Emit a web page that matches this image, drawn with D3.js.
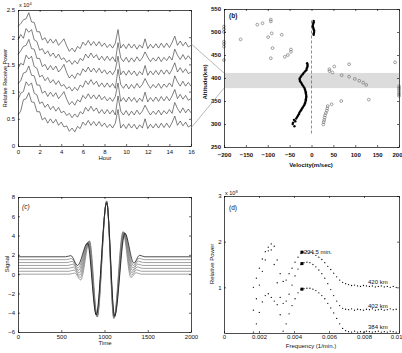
<!DOCTYPE html>
<html><head><meta charset="utf-8">
<script src="https://cdn.jsdelivr.net/npm/d3@7/dist/d3.min.js"></script>
<style>
body{margin:0;background:#fff}
text{font-family:"Liberation Sans",Arial,sans-serif;fill:#111}
</style></head><body>
<script>
var W = 402, H = 353;

// (a) relative receive power, 7 altitudes, sampled every 0.25 h
var powerCurves = [
 [0.57,0.64,0.85,0.87,0.98,0.81,0.80,0.63,0.63,0.48,0.52,0.42,0.50,0.42,0.49,0.38,0.44,0.35,0.37,0.27,0.33,0.26,0.36,0.32,0.44,0.38,0.47,0.38,0.45,0.37,0.45,0.36,0.42,0.34,0.40,0.33,0.42,0.67,0.33,0.40,0.32,0.41,0.33,0.40,0.31,0.39,0.33,0.50,0.32,0.40,0.33,0.41,0.33,0.42,0.34,0.42,0.34,0.43,0.55,0.38,0.46,0.37,0.44,0.35,0.38],
 [0.85,0.97,1.00,1.18,1.11,1.16,0.97,0.94,0.78,0.81,0.71,0.77,0.67,0.73,0.64,0.71,0.61,0.64,0.56,0.60,0.52,0.59,0.53,0.63,0.59,0.71,0.64,0.73,0.64,0.70,0.60,0.67,0.59,0.67,0.59,0.66,0.57,0.92,0.64,0.57,0.65,0.56,0.64,0.57,0.66,0.58,0.64,0.75,0.65,0.57,0.64,0.58,0.66,0.57,0.65,0.59,0.67,0.60,0.80,0.69,0.61,0.70,0.61,0.68,0.61],
 [1.14,1.20,1.34,1.36,1.47,1.30,1.29,1.12,1.12,0.97,1.01,0.91,0.99,0.91,0.98,0.87,0.93,1.00,0.86,0.76,0.82,0.75,0.85,0.81,0.93,0.87,0.96,0.87,0.94,0.86,0.94,0.85,0.91,0.83,0.89,0.82,0.91,1.16,0.82,0.89,0.81,0.90,0.82,0.89,0.80,0.88,0.82,0.99,0.81,0.89,0.82,0.90,0.82,0.91,0.83,0.91,0.83,0.92,1.04,0.87,0.95,0.86,0.93,0.84,0.87],
 [1.42,1.52,1.49,1.67,1.60,1.65,1.46,1.43,1.27,1.30,1.20,1.26,1.16,1.22,1.13,1.20,1.10,1.13,1.05,1.09,1.01,1.08,1.02,1.12,1.08,1.20,1.13,1.22,1.13,1.19,1.09,1.16,1.08,1.16,1.08,1.15,1.06,1.41,1.13,1.06,1.14,1.05,1.13,1.06,1.15,1.07,1.13,1.24,1.14,1.06,1.13,1.07,1.15,1.06,1.14,1.08,1.16,1.09,1.29,1.18,1.10,1.19,1.10,1.17,1.10],
 [1.68,1.75,1.83,1.85,1.96,1.79,1.78,1.61,1.61,1.46,1.50,1.40,1.48,1.40,1.47,1.36,1.42,1.50,1.35,1.25,1.31,1.24,1.34,1.30,1.42,1.36,1.45,1.36,1.43,1.35,1.43,1.34,1.40,1.32,1.38,1.31,1.40,1.65,1.31,1.38,1.30,1.39,1.31,1.38,1.29,1.37,1.31,1.48,1.30,1.38,1.31,1.39,1.31,1.40,1.32,1.40,1.32,1.41,1.53,1.36,1.44,1.35,1.42,1.33,1.36],
 [1.95,2.05,1.98,2.16,2.09,2.14,1.95,1.92,1.76,1.79,1.69,1.75,1.65,1.71,1.62,1.69,1.59,1.62,1.54,1.58,1.50,1.57,1.51,1.61,1.57,1.69,1.62,1.71,1.62,1.68,1.58,1.65,1.57,1.65,1.57,1.64,1.55,1.90,1.62,1.55,1.63,1.54,1.62,1.55,1.64,1.56,1.62,1.73,1.63,1.55,1.62,1.56,1.64,1.55,1.63,1.57,1.65,1.58,1.78,1.67,1.59,1.68,1.59,1.66,1.59],
 [2.20,2.25,2.32,2.34,2.45,2.28,2.27,2.10,2.10,1.95,1.99,1.89,1.97,1.89,1.96,1.85,1.91,1.97,1.84,1.74,1.80,1.73,1.83,1.79,1.91,1.85,1.94,1.85,1.92,1.84,1.92,1.83,1.89,1.81,1.87,1.80,1.89,2.14,1.80,1.87,1.79,1.88,1.80,1.87,1.78,1.86,1.80,1.97,1.79,1.87,1.80,1.88,1.80,1.89,1.81,1.89,1.81,1.90,2.02,1.85,1.93,1.84,1.91,1.82,1.85]
];
var hourTicks = [0,2,4,6,8,10,12,14,16];
var powerTicks = [0,0.5,1,1.5,2,2.5];
var powerTickLabels = ["0","0.5","1","1.5","2","2.5"];

// (b) velocity profile
var openVel = [-200,-200,-200,-200,-200,-200,-200,-162,-124,-112,-93,-93,-91,-99,-68,-89,-93,-61,-54,-47,-47,
  41,41,48,52,69,86,86,99,109,118,125,131,191,200,200,200,200,200,200,68,46,37,27,28,29,30,31,33,35,36];
var openAlt = [512,506,500,479,474,468,439,484,516,519,527,523,497,489,494,465,443,446,450,457,462,
  419,415,412,425,406,430,403,398,394,390,385,353,434,382,378,374,369,365,361,350,343,339,299,304,309,314,319,324,329,334];
var dotVel = [5,5,4,3,3,4,5,6,6,5,5,
  -10,-9,-9,-10,-11,-12,-15,-18,-20,-23,-25,-27,-27,-26,-24,-22,-20,-18,-16,-15,-14,-13,-13,-12,-12,-12,-13,-13,-14,-15,-16,-18,-20,-22,-24,-26,-28,-29,-31,-33,-35,-40,-37,-42,-43,-39];
var dotAlt = [524,521,518,515,512,509,506,503,500,497,494,
  432,429,426,423,420,417,414,411,408,405,402,399,396,393,390,387,384,381,378,375,372,369,366,363,360,357,354,351,348,345,342,339,336,333,330,327,324,321,318,315,312,309,306,303,300,295];
var bandAlt = [378,411];
var velTicks = [-200,-150,-100,-50,0,50,100,150,200];
var altTicks = [250,300,350,400,450,500,550];

// (c) wave packets
var sigTime = [
 [0,600,655,725,828,917,1025,1107,1213,1305,1365,1420,2000],
 [0,592,648,719,824,915,1025,1109,1217,1311,1372,1428,2000],
 [0,583,640,713,820,913,1025,1110,1221,1316,1379,1436,2000],
 [0,575,633,707,816,911,1025,1112,1224,1322,1385,1444,2000],
 [0,566,625,701,812,908,1025,1114,1228,1327,1392,1452,2000],
 [0,558,618,695,808,906,1025,1115,1232,1333,1399,1460,2000],
 [0,549,611,689,804,904,1025,1117,1236,1339,1406,1467,2000]
];
var sigValue = [
 [0,0,0.12,-0.6,3.45,-4.45,7.6,-4.6,4.4,-0.35,0.15,0,0],
 [0.3,0.3,0.42,-0.35,3.42,-4.42,7.58,-4.56,4.38,-0.1,0.45,0.3,0.3],
 [0.6,0.6,0.72,-0.1,3.38,-4.38,7.55,-4.52,4.36,0.15,0.75,0.6,0.6],
 [0.9,0.9,1.02,0.15,3.34,-4.34,7.52,-4.48,4.33,0.4,1.05,0.9,0.9],
 [1.2,1.2,1.32,0.4,3.3,-4.3,7.48,-4.44,4.3,0.65,1.35,1.2,1.2],
 [1.5,1.5,1.62,0.65,3.26,-4.26,7.44,-4.4,4.27,0.9,1.65,1.5,1.5],
 [1.8,1.8,1.92,0.9,3.22,-4.22,7.4,-4.36,4.24,1.15,1.95,1.8,1.8]
];
var timeTicks = [0,500,1000,1500,2000];
var sigTicks = [-6,-4,-2,0,2,4,6,8];

// (d) spectra, one value per frequency bin
var specNames = ["420 km","402 km","384 km"];
var spec = [
 [1.00,1.20,1.42,1.62,1.78,1.88,1.95,1.90,1.60,1.30,1.13,1.16,1.30,1.42,1.55,1.66,1.74,1.77,1.78,1.77,1.74,1.70,1.66,1.61,1.54,1.46,1.39,1.31,1.23,1.16,1.11,1.08,1.06,1.04,1.05,1.03,1.02,1.04,1.03,1.02,1.03,1.01,1.02,1.03,1.01,1.02,1.00,1.02,1.00],
 [0.50,0.75,1.05,1.35,1.60,1.80,1.82,1.50,1.10,0.78,0.65,0.70,0.85,1.05,1.25,1.40,1.50,1.54,1.55,1.54,1.50,1.45,1.38,1.30,1.20,1.08,0.95,0.82,0.70,0.60,0.54,0.52,0.51,0.53,0.50,0.52,0.51,0.50,0.52,0.51,0.53,0.50,0.51,0.52,0.50,0.51,0.53,0.51,0.52],
 [0.02,0.20,0.45,0.68,0.82,0.86,0.78,0.70,0.62,0.40,0.04,0.20,0.42,0.60,0.75,0.88,0.95,0.97,0.98,0.98,0.96,0.93,0.88,0.82,0.75,0.65,0.55,0.44,0.32,0.20,0.10,0.05,0.03,0.02,0.04,0.02,0.03,0.02,0.04,0.03,0.02,0.03,0.04,0.02,0.03,0.02,0.04,0.03,0.02]
];
var markFreq = 1 / 224.5;
var markVals = [1.77, 1.52, 0.96];
var freqTicks = [0,0.002,0.004,0.006,0.008,0.01];
var freqTickLabels = ["0","0.002","0.004","0.006","0.008","0.01"];
var rpTicks = [1,2,3];

var svg = d3.select("body").append("svg").attr("width", W).attr("height", H);

function frame(x, y, xt, yt, xfmt, yfmt, xpad, ypad, bold) {
  var xr = x.range(), yr = y.range();
  var g = svg.append("g");
  var bottom = g.append("g").attr("transform", "translate(0," + yr[0] + ")")
    .call(d3.axisBottom(x).tickValues(xt).tickFormat(xfmt).tickSizeInner(-2).tickSizeOuter(0).tickPadding(xpad));
  g.append("g").attr("transform", "translate(0," + yr[1] + ")")
    .call(d3.axisTop(x).tickValues(xt).tickFormat("").tickSizeInner(-2).tickSizeOuter(0));
  g.append("g").attr("transform", "translate(" + xr[0] + ",0)")
    .call(d3.axisLeft(y).tickValues(yt).tickFormat(yfmt).tickSizeInner(-2).tickSizeOuter(0).tickPadding(ypad));
  g.append("g").attr("transform", "translate(" + xr[1] + ",0)")
    .call(d3.axisRight(y).tickValues(yt).tickFormat("").tickSizeInner(-2).tickSizeOuter(0));
  g.selectAll(".domain").attr("stroke", "#000").attr("stroke-width", 0.7);
  g.selectAll(".tick line").attr("stroke", "#000").attr("stroke-width", 0.6);
  g.selectAll("text").attr("font-size", 6).attr("fill", "#111")
    .attr("font-family", '"Liberation Sans",Arial,sans-serif')
    .attr("font-weight", bold ? "bold" : null);
  // keep the last label inside the page
  if (xr[1] > 390) bottom.selectAll(".tick:last-of-type text").attr("text-anchor", "end").attr("dx", 3);
  return g;
}
function label(txt, x, y, size, rot, extra) {
  var t = svg.append("text").attr("font-size", size).attr("text-anchor", "middle").text(txt);
  if (rot) t.attr("transform", "translate(" + x + "," + y + ") rotate(-90)");
  else t.attr("x", x).attr("y", y);
  if (extra) extra(t);
  return t;
}

// ---------- (a)
var hours = d3.range(powerCurves[0].length).map(function (k) { return k * 0.25; });
var xa = d3.scaleLinear().domain([0, 16]).range([18, 191]);
var ya = d3.scaleLinear().domain([0, 2.5]).range([146, 10]);
var lineA = d3.line().x(function (d, i) { return xa(hours[i]); }).y(function (d) { return ya(d); });
svg.append("g").selectAll("path").data(powerCurves).enter().append("path")
  .attr("d", lineA).attr("fill", "none").attr("stroke", "#2a2a2a").attr("stroke-width", 0.6);
frame(xa, ya, hourTicks, powerTicks, d3.format("d"), function (d, i) { return powerTickLabels[i]; }, 3.5, 3, false);
svg.append("text").attr("x", 19).attr("y", 7).attr("font-size", 5.5).text("x 10")
  .append("tspan").attr("dy", -2.5).attr("font-size", 4).text("4");
label("Hour", 105, 160, 6);
label("Relative Receive Power", 7, 78, 5.5, true);

// ---------- (b)
var xb = d3.scaleLinear().domain([-200, 200]).range([224, 399]);
var yb = d3.scaleLinear().domain([250, 550]).range([147, 9]);
svg.append("rect").attr("x", xb(-200)).attr("width", xb(200) - xb(-200))
  .attr("y", yb(bandAlt[1])).attr("height", yb(bandAlt[0]) - yb(bandAlt[1])).attr("fill", "#dcdcdc");
svg.append("line").attr("x1", xb(0)).attr("x2", xb(0)).attr("y1", yb(525)).attr("y2", yb(275))
  .attr("stroke", "#444").attr("stroke-width", 0.6).attr("stroke-dasharray", "3,2");
svg.append("g").selectAll("circle").data(openVel).enter().append("circle")
  .attr("cx", function (d) { return xb(d); }).attr("cy", function (d, i) { return yb(openAlt[i]); })
  .attr("r", 1.4).attr("fill", "none").attr("stroke", "#666").attr("stroke-width", 0.6);
svg.append("g").selectAll("circle").data(dotVel).enter().append("circle")
  .attr("cx", function (d) { return xb(d); }).attr("cy", function (d, i) { return yb(dotAlt[i]); })
  .attr("r", 1.2).attr("fill", "#000");
frame(xb, yb, velTicks, altTicks, d3.format("d"), d3.format("d"), 6, 3, true);
svg.append("text").attr("x", 229).attr("y", 18).attr("font-size", 6.5)
  .attr("font-family", '"Liberation Serif",serif').attr("font-weight", "bold").text("(b)");
label("Velocity(m/sec)", 311, 167, 6, false, function (t) { t.attr("font-weight", "bold"); });
label("Altitude(km)", 207, 82, 6, true, function (t) { t.attr("font-weight", "bold"); });

// connectors from (a) to the shaded band in (b)
[[1.88, bandAlt[1]], [0.33, bandAlt[0]]].forEach(function (p) {
  svg.append("line").attr("x1", xa(16)).attr("y1", ya(p[0])).attr("x2", xb(-200)).attr("y2", yb(p[1]))
    .attr("stroke", "#888").attr("stroke-width", 0.6);
});

// ---------- (c)
var xc = d3.scaleLinear().domain([0, 2000]).range([18, 191]);
var yc = d3.scaleLinear().domain([-6, 8]).range([332, 197]);
var lineC = d3.line().curve(d3.curveMonotoneX)
  .x(function (d) { return xc(d[0]); }).y(function (d) { return yc(d[1]); });
svg.append("g").selectAll("path").data(sigTime).enter().append("path")
  .attr("d", function (ts, j) { return lineC(ts.map(function (t, k) { return [t, sigValue[j][k]]; })); })
  .attr("fill", "none")
  .attr("stroke", function (d, j) { return j === sigTime.length - 1 ? "#000" : "#777"; })
  .attr("stroke-width", 0.7);
frame(xc, yc, timeTicks, sigTicks, d3.format("d"), d3.format("d"), 2.5, 3, false);
svg.append("text").attr("x", 22).attr("y", 209).attr("font-size", 6.5)
  .attr("font-family", '"Liberation Serif",serif').attr("font-style", "italic").text("(c)");
label("Time", 105, 345, 6);
label("Signal", 9, 264, 6, true);

// ---------- (d)
var freqs = d3.range(spec[0].length).map(function (k) { return 0.00168 + k * 0.00017; });
var xd = d3.scaleLinear().domain([0, 0.01]).range([224, 399]);
var yd = d3.scaleLinear().domain([0, 3]).range([333, 196]);
spec.forEach(function (s) {
  svg.append("g").selectAll("circle").data(s).enter().append("circle")
    .attr("cx", function (d, k) { return xd(freqs[k]); }).attr("cy", function (d) { return yd(d); })
    .attr("r", 0.65).attr("fill", "#000");
});
svg.append("g").selectAll("rect").data(markVals).enter().append("rect")
  .attr("x", xd(markFreq) - 1.5).attr("y", function (d) { return yd(d) - 1.5; })
  .attr("width", 3).attr("height", 3).attr("fill", "#000");
svg.append("text").attr("x", xd(markFreq) + 2).attr("y", yd(markVals[0]) + 2).attr("font-size", 6)
  .attr("font-family", '"Liberation Sans Narrow","Liberation Sans",sans-serif').text("224.5 min.");
specNames.forEach(function (n, i) {
  svg.append("text").attr("x", xd(0.00823)).attr("y", yd(spec[i][44]) - 2.5).attr("font-size", 6)
    .attr("font-family", '"Liberation Sans Narrow","Liberation Sans",sans-serif').text(n);
});
frame(xd, yd, freqTicks, rpTicks, function (d, i) { return freqTickLabels[i]; }, d3.format("d"), 1.5, 2.5, false);
svg.append("text").attr("x", 225).attr("y", 195).attr("font-size", 5.5).text("x 10")
  .append("tspan").attr("dy", -2.5).attr("font-size", 4).text("8");
svg.append("text").attr("x", 229).attr("y", 210).attr("font-size", 6.5)
  .attr("font-family", '"Liberation Serif",serif').text("(d)");
label("Frequency (1/min.)", 311, 348, 6);
label("Relative Power", 214, 264, 6, true);
</script>
</body></html>
